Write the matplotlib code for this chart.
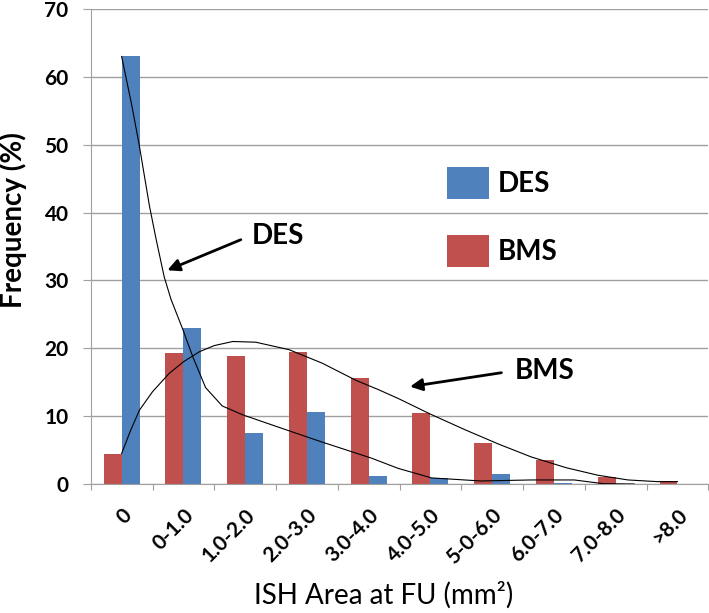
import numpy as np
import matplotlib.pyplot as plt
from matplotlib.transforms import ScaledTranslation

plt.rcParams['font.family'] = ['Lato', 'DejaVu Sans']

categories = ["0", "0-1.0", "1.0-2.0", "2.0-3.0", "3.0-4.0", "4.0-5.0",
              "5-0-6.0", "6.0-7.0", "7.0-8.0", ">8.0"]
bms = [4.4, 19.3, 18.9, 19.5, 15.6, 10.4, 6.1, 3.5, 1.1, 0.5]
des = [63.0, 23.0, 7.5, 10.6, 1.2, 0.85, 1.5, 0.1, 0.0, 0.0]

# trend lines (category position, value)
des_trend_x = [0, 0.16, 0.28, 0.45, 0.56, 0.69, 0.8, 0.99, 1.15, 1.36, 1.63,
               1.96, 2.5, 3.24, 4.05, 4.48, 5.02, 5.82, 6.63, 7.33, 7.8, 8.3]
des_trend_y = [63, 56, 50.2, 41, 36, 30.5, 27.2, 22.8, 18.8, 14.2, 11.5,
               10.2, 8.5, 6.2, 3.8, 2.3, 0.9, 0.45, 0.6, 0.6, 0.05, 0.0]
bms_trend_x = [0, 0.15, 0.29, 0.5, 0.77, 1.0, 1.26, 1.5, 1.8, 2.17, 2.71, 3.25,
               3.79, 4.16, 4.48, 5.0, 5.56, 6.1, 6.63, 7.2, 7.71, 8.2, 8.68, 9.0]
bms_trend_y = [4.5, 8.0, 10.9, 13.6, 16.3, 18.0, 19.5, 20.4, 21.0, 20.9, 19.8, 17.8,
               15.3, 13.9, 12.6, 10.3, 8.0, 5.9, 4.0, 2.4, 1.3, 0.6, 0.35, 0.35]

blue = "#4f81bd"
red = "#c0504d"
grey = "#a0a0a0"

fig = plt.figure(figsize=(7.09, 6.13), dpi=100)
ax = fig.add_axes([0.128, 0.2104, 0.871, 0.775])

x = np.arange(len(categories))
w = 0.29
ax.bar(x - w/2, bms, w, color=red, zorder=2)
ax.bar(x + w/2, des, w, color=blue, zorder=2)

ax.plot(des_trend_x, des_trend_y, color="black", lw=0.8, zorder=3)
ax.plot(bms_trend_x, bms_trend_y, color="black", lw=0.8, zorder=3)

ax.set_xlim(-0.5, len(categories) - 0.5)
ax.set_ylim(0, 70)
ax.set_yticks(range(0, 71, 10))
ax.set_yticklabels([str(v) for v in range(0, 71, 10)], fontsize=15,
                   fontweight="bold")
ax.yaxis.grid(True, color=grey, lw=1.0, zorder=0)
ax.set_axisbelow(True)
for s in ["top", "right"]:
    ax.spines[s].set_visible(False)
ax.spines["left"].set_color(grey)
ax.spines["bottom"].set_color(grey)

ax.set_xticks(np.arange(len(categories) + 1) - 0.5)
ax.set_xticklabels([])
ax.tick_params(axis="x", length=4.5, color=grey)
ax.set_xticks(x, minor=True)
ax.set_xticklabels(categories, minor=True, rotation=45, ha="right", va="center",
                   rotation_mode="anchor", fontsize=15, fontweight="bold")
ax.tick_params(axis="x", which="minor", length=0, pad=20)
shift = ScaledTranslation(5 / 72, 0, fig.dpi_scale_trans)
for t in ax.get_xticklabels(minor=True):
    t.set_transform(t.get_transform() + shift)
ax.tick_params(axis="y", length=6, color=grey, pad=10)

ax.set_ylabel("Frequency (%)", fontsize=20, fontweight="bold")
ax.yaxis.set_label_coords(-0.104, 0.556)
ax.set_xlabel("ISH Area at FU (mm²)", fontsize=20, va="baseline")
ax.xaxis.set_label_coords(0.474, -0.252)

# legend
ax.bar([0], [0], color=blue, label="DES")
ax.bar([0], [0], color=red, label="BMS")
ax.legend(loc="upper left", bbox_to_anchor=(447 / 709, 1 - 167 / 613),
          bbox_transform=fig.transFigure, frameon=False, borderpad=0,
          borderaxespad=0, prop={"size": 20, "weight": "bold"},
          handlelength=1.5, handleheight=1.4, labelspacing=1.3,
          handletextpad=0.32)

arrow = dict(arrowstyle="-|>", color="black", lw=2, mutation_scale=18,
             shrinkA=0, shrinkB=0)
ax.text(2.11, 36.6, "DES", fontsize=20, fontweight="bold", va="center")
ax.annotate("", xy=(0.74, 31.5), xytext=(1.93, 36.0), arrowprops=arrow)
ax.text(6.37, 16.7, "BMS", fontsize=20, fontweight="bold", va="center")
ax.annotate("", xy=(4.67, 14.35), xytext=(6.15, 16.4), arrowprops=arrow)

fig.savefig("out.png", dpi=100)
